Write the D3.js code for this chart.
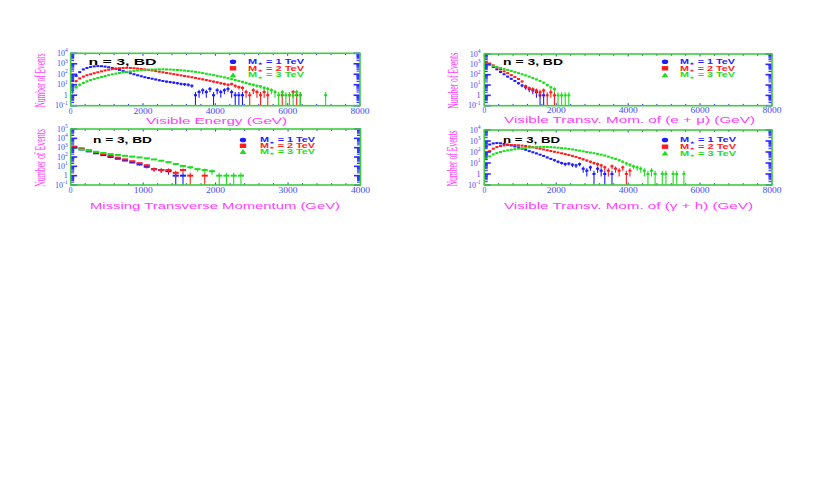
<!DOCTYPE html>
<html><head><meta charset="utf-8">
<script src="https://cdn.jsdelivr.net/npm/d3@7"></script>
<style>html,body{margin:0;padding:0;background:#fff;} svg{display:block}</style>
</head><body>
<svg id="c" width="827" height="484"></svg>
<script>
// ---------------- data (bin width 100 GeV, value per bin starting at 0 GeV; 0 = empty bin) ----------
const binWidth = 100;
const seriesLabels = ["1 TeV", "2 TeV", "3 TeV"];
const panelTitles = ["Visible Energy (GeV)", "Missing Transverse Momentum (GeV)",
  "Visible Transv. Mom. of (e + \u03bc) (GeV)", "Visible Transv. Mom. of (\u03b3 + h) (GeV)"];
const yAxisTitle = "Number of Events";
const panelTag = "n = 3, BD";
const xTicks8000 = [0, 2000, 4000, 6000, 8000];
const xTicks4000 = [0, 1000, 2000, 3000, 4000];

// Visible energy
const visE_1TeV = [25,70,160,290,400,500,570,600,590,540,470,400,330,260,200,160,125,100,80,65,52,44,38,32,27,23,20,18,16,14,12,11,10,8,1,2,3,2,4,1,3,2,3,4,2,1,1,1];
const visE_2TeV = [10,22,40,60,80,100,125,155,190,230,270,310,350,380,400,410,400,380,350,320,290,260,230,200,175,155,135,118,102,90,78,68,60,52,45,38,33,28,24,20,17,14,12,10,12,8,6,5,2,1,3,2,1,2,1,0,0,0,1,0,1,2,1,1];
const visE_3TeV = [3,6,10,15,21,28,36,45,56,68,82,98,115,132,150,170,190,210,228,245,260,272,282,290,295,295,290,282,270,255,240,222,205,188,170,150,130,112,96,82,70,60,50,42,34,28,23,19,15,12,10,8,7,5,4,3,2,1,2,1,1,1,2,1,0,0,0,0,0,0,1];
// Missing transverse momentum
const met_1TeV = [1000,650,400,250,160,100,65,42,26,16,9,5,4,3,1,1];
const met_2TeV = [1300,850,520,330,210,135,85,55,35,22,13,5,4,4,2,4,1,0,1];
const met_3TeV = [900,650,480,360,270,205,165,135,110,90,72,55,40,28,18,11,8,5,4,3,1,1,1,1];
// Visible transverse momentum of (e + mu)
const emu_1TeV = [1400,950,560,330,180,110,65,40,25,15,9,6,4,3,2,1,1];
const emu_2TeV = [1500,1200,800,500,320,210,140,90,60,38,22,8,5,4,3,2,3,1,2,1];
const emu_3TeV = [1100,900,700,560,450,360,290,230,180,140,110,85,65,48,35,25,17,10,6,4,1,1,1,1];
// Visible transverse momentum of (gamma + h)
const gh_1TeV = [300,480,600,650,620,550,470,390,320,260,200,160,120,95,75,58,44,32,24,18,13,10,8,9,7,6,8,3,2,4,1,3,2,1,0,1];
const gh_2TeV = [60,120,200,280,350,400,430,440,430,410,380,350,310,270,235,200,170,145,122,105,90,76,64,54,44,36,28,22,17,13,10,8,6,4,2,5,3,2,4,1,2];
const gh_3TeV = [25,40,60,80,100,120,140,160,180,200,220,240,255,270,280,290,290,285,275,260,245,228,210,190,170,150,132,115,100,88,78,68,58,48,38,30,24,18,13,9,7,5,4,3,2,1,2,1,0,1,1,0,1,1,0,1];

// ---------------- styling / layout ----------------
const COL = ["#1c1cff", "#ff1c1c", "#1fdc1f"];
const FRAME = "#3fcc3f", TICKBLUE = "#2b2bff", LABBLUE = "#4646ff", MAG = "#ff3cff";

const panels = [
  {L:70.7, R:360, T:53.3, B:105.7, xMax:8000, yMaxExp:4, xTicks:xTicks8000, minorStep:400,
   series:[visE_1TeV, visE_2TeV, visE_3TeV], title:panelTitles[0], titleL:146, titleR:287, titleBase:123.5,
   tickBase:113.6, yLabX:40, yLabLen:54, tickLabR:67.7,
   tag:{x:88.5, y:65, len:68, fs:9.5}, leg:{mx:233, tx:248, tl:56, y:[61.7,68.3,75], fs:7}},
  {L:70.7, R:360.5, T:129, B:185, xMax:4000, yMaxExp:5, xTicks:xTicks4000, minorStep:200,
   series:[met_1TeV, met_2TeV, met_3TeV], title:panelTitles[1], titleL:90, titleR:340, titleBase:209,
   tickBase:193, yLabX:40, yLabLen:58, tickLabR:67.7,
   tag:{x:93, y:142.5, len:59, fs:8.5}, leg:{mx:243, tx:260, tl:55, y:[140,145.8,151.7], fs:6.5}},
  {L:484.3, R:772, T:54, B:105.7, xMax:8000, yMaxExp:4, xTicks:xTicks8000, minorStep:400,
   series:[emu_1TeV, emu_2TeV, emu_3TeV], title:panelTitles[2], titleL:504, titleR:755, titleBase:123,
   tickBase:113.2, yLabX:453, yLabLen:56, tickLabR:480.5,
   tag:{x:503, y:64.5, len:60, fs:9}, leg:{mx:665, tx:680, tl:55, y:[61.7,68.3,75], fs:7}},
  {L:484.3, R:772, T:130, B:185, xMax:8000, yMaxExp:4, xTicks:xTicks8000, minorStep:400,
   series:[gh_1TeV, gh_2TeV, gh_3TeV], title:panelTitles[3], titleL:504, titleR:753, titleBase:209,
   tickBase:192.8, yLabX:452, yLabLen:56, tickLabR:480.5,
   tag:{x:503, y:142.5, len:57, fs:8.5}, leg:{mx:665, tx:680, tl:56, y:[140,146.7,153.3], fs:7}}
];

const svg = d3.select("#c");
svg.append("rect").attr("width", 827).attr("height", 484).attr("fill", "#fff");

panels.forEach(p => {
  const x = d3.scaleLinear().domain([0, p.xMax]).range([p.L, p.R]);
  const yMax = Math.pow(10, p.yMaxExp);
  const y = d3.scaleLog().domain([0.1, yMax]).range([p.B, p.T]);
  const g = svg.append("g");

  // data points with error bars
  p.series.forEach((vals, si) => {
    const pts = vals.map((v, i) => ({i, v})).filter(d => d.v > 0);
    const sg = g.append("g");
    sg.selectAll("line").data(pts).join("line")
      .attr("x1", d => x((d.i + 0.5) * binWidth)).attr("x2", d => x((d.i + 0.5) * binWidth))
      .attr("y1", d => { const lo = d.v - Math.sqrt(d.v); return lo > 0.1 ? y(lo) : p.B; })
      .attr("y2", d => y(Math.min(d.v + Math.sqrt(d.v), yMax)))
      .attr("stroke", COL[si]).attr("stroke-width", 1.1);
    const bw = x(binWidth) - x(0);
    sg.selectAll("rect").data(pts).join("rect")
      .attr("x", d => x(d.i * binWidth) + bw * 0.08).attr("width", bw * 0.84)
      .attr("y", d => y(d.v) - 1).attr("height", 2).attr("fill", COL[si]);
  });

  // y ticks (left & right, inward)
  const majors = d3.range(-1, p.yMaxExp + 1).map(e => Math.pow(10, e));
  const minors = [];
  d3.range(-1, p.yMaxExp).forEach(e => { for (let k = 2; k <= 9; k++) minors.push(k * Math.pow(10, e)); });
  [[p.L, 1], [p.R, -1]].forEach(([x0, dir]) => {
    g.append("g").selectAll("line").data(minors).join("line")
      .attr("x1", x0).attr("x2", x0 + dir * 3.5)
      .attr("y1", d => y(d)).attr("y2", d => y(d))
      .attr("stroke", TICKBLUE).attr("stroke-width", 1);
    g.append("g").selectAll("line").data(majors).join("line")
      .attr("x1", x0).attr("x2", x0 + dir * 6.5)
      .attr("y1", d => y(d)).attr("y2", d => y(d))
      .attr("stroke", TICKBLUE).attr("stroke-width", 1.6);
  });
  // x ticks (top & bottom)
  const xm = d3.range(0, p.xMax + 1, p.minorStep);
  [[p.T, 1], [p.B, -1]].forEach(([y0, dir]) => {
    g.append("g").selectAll("line").data(xm).join("line")
      .attr("x1", d => x(d)).attr("x2", d => x(d))
      .attr("y1", y0).attr("y2", d => y0 + dir * (p.xTicks.includes(d) ? 2.5 : 1.8))
      .attr("stroke", TICKBLUE).attr("stroke-width", 1);
  });

  // frame
  g.append("rect").attr("x", p.L).attr("y", p.T).attr("width", p.R - p.L).attr("height", p.B - p.T)
    .attr("fill", "none").attr("stroke", FRAME).attr("stroke-width", 1.6);

  // y tick labels
  const yl = g.append("g").attr("font-family", "Liberation Serif, DejaVu Serif, serif")
    .attr("fill", LABBLUE).attr("text-anchor", "end");
  majors.forEach(v => {
    const e = Math.round(Math.log10(v));
    const t = yl.append("text").attr("x", p.tickLabR).attr("y", y(v) + 2.5).attr("font-size", 8);
    if (e === 0) { t.text("1"); }
    else {
      t.append("tspan").text("10");
      t.append("tspan").attr("font-size", 5.5).attr("dy", -3.5).text(String(e));
    }
  });

  // x tick labels
  g.append("g").selectAll("text").data(p.xTicks).join("text")
    .attr("x", d => x(d)).attr("y", p.tickBase)
    .attr("text-anchor", "middle").attr("font-family", "Liberation Serif, DejaVu Serif, serif")
    .attr("font-size", 7.5).attr("fill", LABBLUE)
    .each(function(d) { if (d > 0) d3.select(this).attr("textLength", 19).attr("lengthAdjust", "spacingAndGlyphs"); })
    .text(d => d);

  // x-axis title
  g.append("text").attr("x", p.titleL).attr("y", p.titleBase)
    .attr("font-family", "Liberation Sans, Arial, sans-serif").attr("font-size", 9)
    .attr("fill", MAG).attr("textLength", p.titleR - p.titleL).attr("lengthAdjust", "spacingAndGlyphs")
    .text(p.title);

  // y-axis title
  const cy = (p.T + p.B) / 2 + 1;
  g.append("text").attr("transform", `translate(${p.yLabX + 4.5},${cy}) rotate(-90)`)
    .attr("text-anchor", "middle").attr("font-family", "Liberation Serif, Times New Roman, serif")
    .attr("font-size", 14).attr("fill", MAG)
    .attr("textLength", p.yLabLen).attr("lengthAdjust", "spacingAndGlyphs")
    .text(yAxisTitle);

  // tag
  g.append("text").attr("x", p.tag.x).attr("y", p.tag.y)
    .attr("font-family", "Liberation Sans, Arial, sans-serif").attr("font-weight", "bold")
    .attr("font-size", p.tag.fs).attr("fill", "#000")
    .attr("textLength", p.tag.len).attr("lengthAdjust", "spacingAndGlyphs")
    .text(panelTag);

  // legend
  const lg = p.leg;
  seriesLabels.forEach((lab, si) => {
    const yy = lg.y[si];
    if (si === 0) g.append("ellipse").attr("cx", lg.mx).attr("cy", yy).attr("rx", 3.2).attr("ry", 2.3).attr("fill", COL[si]);
    else if (si === 1) g.append("rect").attr("x", lg.mx - 3.2).attr("y", yy - 2.2).attr("width", 6.4).attr("height", 4.4).attr("fill", COL[si]);
    else g.append("path").attr("d", `M${lg.mx - 3.4},${yy + 2.3}L${lg.mx + 3.4},${yy + 2.3}L${lg.mx},${yy - 2.6}Z`).attr("fill", COL[si]);
    const t = g.append("text").attr("x", lg.tx).attr("y", yy + 2.4)
      .attr("font-family", "Liberation Sans, DejaVu Sans, sans-serif").attr("font-weight", "bold")
      .attr("font-size", lg.fs).attr("fill", COL[si])
      .attr("textLength", lg.tl).attr("lengthAdjust", "spacingAndGlyphs");
    t.append("tspan").text("M");
    t.append("tspan").attr("font-size", lg.fs * 0.6).attr("dy", 1.2).text("\u2605");
    t.append("tspan").attr("dy", -1.2).text(" = " + lab);
  });
});
</script>
</body></html>
